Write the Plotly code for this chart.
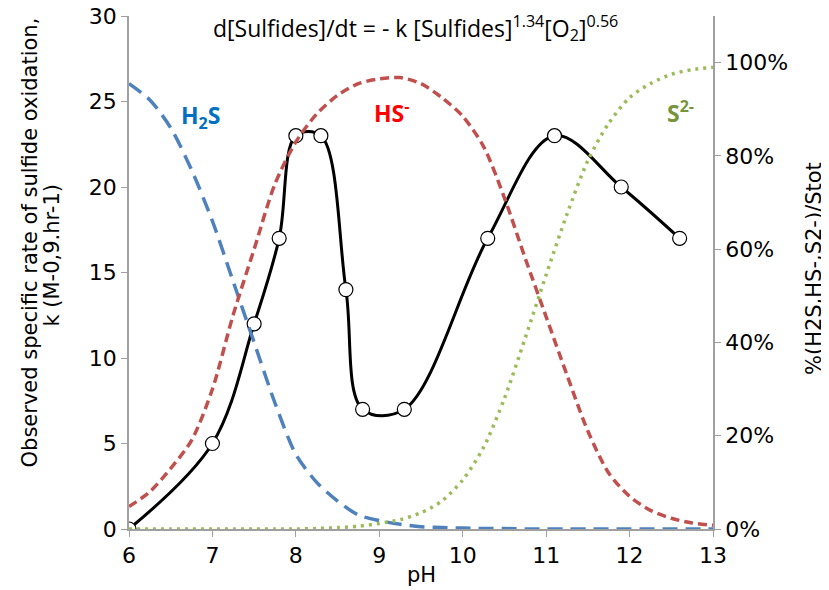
import plotly.graph_objects as go

# observed rate constant k vs pH
ph_k = [6.0, 7.0, 7.5, 7.8, 8.0, 8.3, 8.6, 8.8, 9.3, 10.3, 11.1, 11.9, 12.6]
k_obs = [0, 5, 12, 17, 23, 23, 14, 7, 7, 17, 23, 20, 17]

# sulfide speciation (fraction of total) vs pH
ph_spec = [6.0, 6.25, 6.5, 6.75, 7.0, 7.25, 7.5, 7.75, 8.0, 8.25, 8.5, 8.75, 9.0, 9.25,
           9.5, 9.75, 10.0, 10.25, 10.5, 10.75, 11.0, 11.25, 11.5, 11.75, 12.0, 12.25,
           12.5, 12.75, 13.0]
h2s = [0.955, 0.92, 0.86, 0.77, 0.66, 0.53, 0.40, 0.27, 0.16, 0.10, 0.06, 0.03, 0.018,
       0.01, 0.005, 0.003, 0.002, 0.001, 0.001, 0, 0, 0, 0, 0, 0, 0, 0, 0, 0]
hs = [0.048, 0.08, 0.13, 0.19, 0.30, 0.46, 0.60, 0.74, 0.83, 0.89, 0.93, 0.955, 0.965,
      0.968, 0.955, 0.925, 0.885, 0.82, 0.71, 0.58, 0.455, 0.33, 0.21, 0.12, 0.07, 0.04,
      0.023, 0.013, 0.008]
s2 = [0, 0, 0, 0, 0, 0, 0, 0, 0, 0.001, 0.003, 0.006, 0.012, 0.02, 0.035, 0.06, 0.105,
      0.175, 0.28, 0.41, 0.545, 0.675, 0.79, 0.87, 0.925, 0.955, 0.975, 0.985, 0.99]

pct_ticks = [0, 0.2, 0.4, 0.6, 0.8, 1.0]

fig = go.Figure()

fig.add_trace(go.Scatter(x=ph_spec, y=h2s, yaxis="y2", mode="lines",
                         line=dict(color="#4F81BD", width=3.5, dash="15px,8px",
                                   shape="spline", smoothing=0.8)))
fig.add_trace(go.Scatter(x=ph_spec, y=hs, yaxis="y2", mode="lines",
                         line=dict(color="#C0504D", width=3.5, dash="9px,5px",
                                   shape="spline", smoothing=0.8)))
fig.add_trace(go.Scatter(x=ph_spec, y=s2, yaxis="y2", mode="lines",
                         line=dict(color="#9BBB59", width=3.5, dash="3px,5px",
                                   shape="spline", smoothing=0.8)))
fig.add_trace(go.Scatter(x=ph_k, y=k_obs, mode="lines+markers",
                         line=dict(color="black", width=3, shape="spline", smoothing=1),
                         marker=dict(size=14, color="white", line=dict(color="black", width=1.2))))

axis_font = dict(family="DejaVu Sans", size=22, color="black")
title_font = dict(family="DejaVu Sans", size=21, color="black")
gray = "#A0A0A0"

# page body has an 8px margin, so the figure is 8px smaller than the window
fig.update_layout(
    width=821, height=582,
    margin=dict(l=121, r=116, t=8, b=61, autoexpand=False),
    plot_bgcolor="white", paper_bgcolor="white",
    showlegend=False,
    xaxis=dict(range=[6, 13], dtick=1, showgrid=False, zeroline=False,
               showline=True, linecolor=gray, linewidth=1.5, ticklabeloverflow="allow",
               ticks="outside", ticklen=6, tickcolor=gray, tickfont=axis_font),
    yaxis=dict(range=[0, 30], dtick=5, showgrid=False, zeroline=False,
               showline=True, linecolor=gray, linewidth=1.5, ticklabeloverflow="allow",
               ticks="outside", ticklen=6, tickcolor=gray, tickfont=axis_font),
    yaxis2=dict(range=[0, 1.1], tickvals=pct_ticks, tickformat=".0%",
                overlaying="y", side="right", showgrid=False, zeroline=False,
                showline=True, linecolor=gray, linewidth=1.5, ticklabeloverflow="allow",
                ticks="outside", ticklen=6, tickcolor=gray, tickfont=axis_font),
)

annotations = [
    dict(text="d[Sulfides]/dt = - k [Sulfides]<sup>1.34</sup>[O<sub>2</sub>]<sup>0.56</sup>",
         x=0.49, y=0.976, font=dict(family="Open Sans", size=23, color="black")),
    dict(text="<b>H<sub>2</sub>S</b>", x=0.123, y=0.805,
         font=dict(family="Open Sans", size=23, color="#0070C0")),
    dict(text="<b>HS<sup>-</sup></b>", x=0.449, y=0.812,
         font=dict(family="Open Sans", size=23, color="#FF0000")),
    dict(text="<b>S<sup>2-</sup></b>", x=0.944, y=0.812,
         font=dict(family="Open Sans", size=23, color="#77933C")),
    dict(text="Observed specific rate of sulfide oxidation,", x=-0.170, y=0.558,
         textangle=-90, font=title_font),
    dict(text="k (M-0,9.hr-1)", x=-0.131, y=0.534, textangle=-90, font=title_font),
    dict(text="%(H2S,HS-,S2-)/Stot", x=1.174, y=0.508, textangle=-90, font=title_font),
    dict(text="pH", x=0.5, y=-0.089, font=title_font),
]
for a in annotations:
    fig.add_annotation(xref="paper", yref="paper", showarrow=False,
                       xanchor="center", yanchor="middle", **a)

fig.write_html("out.html")
